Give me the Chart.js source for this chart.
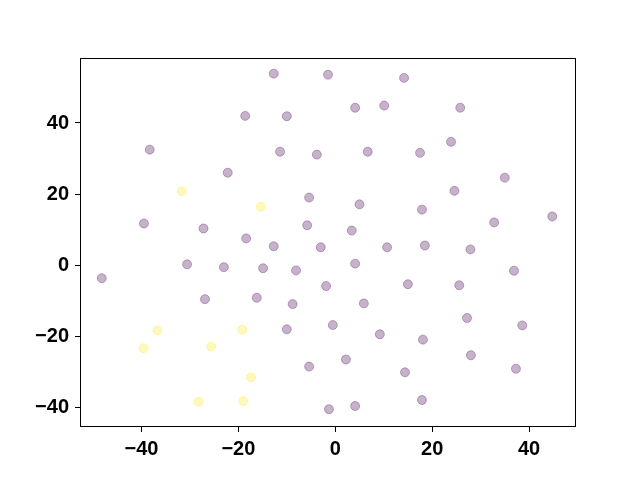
<!DOCTYPE html>
<html>
<head>
<meta charset="utf-8">
<script src="https://cdn.jsdelivr.net/npm/chart.js@4/dist/chart.umd.min.js"></script>
<style>
  html, body { margin: 0; padding: 0; background: #fff; }
  #wrap { width: 640px; height: 480px; }
</style>
</head>
<body>
<div id="wrap"><canvas id="scatter"></canvas></div>
<script>
// purple group (class 0)
var purpleX = [-12.7, -1.5, 14.2, -18.6, -10.0, 4.1, 10.1, 25.8, -38.3, -11.4,
  -3.8, 6.7, 17.5, 23.9, -22.2, 35.0, 24.6, -5.4, 5.0, 17.9,
  44.8, -39.5, -27.2, -5.8, 3.4, 32.8, -18.4, -12.7, -3.0, 10.7,
  18.5, 27.9, -30.6, -23.0, -14.9, -8.1, 4.1, 36.9, -48.2, -1.9,
  15.0, 25.6, -26.9, -16.2, -8.8, 5.9, 27.2, 38.6, -0.5, -10.0,
  9.2, 18.1, 2.2, 28.0, -5.4, 37.3, 14.4, 17.9, 4.1, -1.3];
var purpleY = [53.9, 53.6, 52.7, 42.0, 41.9, 44.3, 44.9, 44.3, 32.5, 31.9,
  31.1, 31.9, 31.6, 34.7, 26.0, 24.6, 20.9, 19.0, 17.1, 15.6,
  13.7, 11.7, 10.3, 11.2, 9.7, 12.0, 7.5, 5.3, 5.0, 5.0,
  5.5, 4.4, 0.2, -0.6, -0.9, -1.5, 0.4, -1.6, -3.7, -5.9,
  -5.4, -5.7, -9.6, -9.2, -11.0, -10.8, -14.9, -17.0, -16.9, -18.1,
  -19.5, -21.0, -26.6, -25.4, -28.6, -29.2, -30.2, -38.0, -39.7, -40.6];

// yellow group (class 1)
var yellowX = [-31.7, -15.4, -36.7, -19.2, -39.6, -25.6, -17.4, -28.2, -19.0];
var yellowY = [20.8, 16.4, -18.4, -18.2, -23.4, -22.9, -31.6, -38.5, -38.3];

var xTicks = [-40, -20, 0, 20, 40];
var yTicks = [-40, -20, 0, 20, 40];

function toPoints(xs, ys) {
  var pts = [];
  for (var i = 0; i < xs.length; i++) pts.push({x: xs[i], y: ys[i]});
  return pts;
}

// draw the full box round the plot area, like matplotlib
var frame = {
  id: 'frame',
  afterDraw: function (c) {
    var a = c.chartArea, g = c.ctx;
    g.save();
    g.strokeStyle = '#000';
    g.lineWidth = 1;
    g.strokeRect(a.left + 0.5, a.top + 0.5, a.right - a.left - 1, a.bottom - a.top - 1);
    g.restore();
  }
};

var tickFont = {family: '"Liberation Sans", Arial, sans-serif', size: 20, weight: 'bold'};
var fmt = function (v) { return v < 0 ? '\u2212' + Math.abs(v) : '' + v; };

var ctx = document.getElementById('scatter').getContext('2d');
var chart = new Chart(ctx, {
    type: 'scatter',
    data: {
        datasets: [{
            data: toPoints(purpleX, purpleY),
            backgroundColor: 'rgba(68, 1, 84, 0.3)',
            borderColor: 'rgba(68, 1, 84, 0.3)',
            borderWidth: 1,
            pointRadius: 4.5
        }, {
            data: toPoints(yellowX, yellowY),
            backgroundColor: 'rgba(253, 231, 37, 0.3)',
            borderColor: 'rgba(253, 231, 37, 0.3)',
            borderWidth: 1,
            pointRadius: 4.5
        }]
    },
    options: {
        responsive: true,
        maintainAspectRatio: false,
        animation: false,
        layout: {padding: {left: 0, right: 64, top: 58, bottom: 0}},
        plugins: {legend: {display: false}, tooltip: {enabled: false}},
        scales: {
            x: {
                type: 'linear',
                min: -52.7,
                max: 49.7,
                afterBuildTicks: function (s) { s.ticks = xTicks.map(function (v) { return {value: v}; }); },
                afterFit: function (s) { s.height = 53; },
                grid: {drawOnChartArea: false, drawTicks: true, tickLength: 5, color: '#000'},
                border: {display: false},
                ticks: {font: tickFont, color: '#000', padding: 5, maxRotation: 0, callback: fmt}
            },
            y: {
                type: 'linear',
                min: -45.6,
                max: 58.3,
                afterBuildTicks: function (s) { s.ticks = yTicks.map(function (v) { return {value: v}; }); },
                afterFit: function (s) { s.width = 80; },
                grid: {drawOnChartArea: false, drawTicks: true, tickLength: 5, color: '#000'},
                border: {display: false},
                ticks: {font: tickFont, color: '#000', padding: 6, callback: fmt}
            }
        }
    },
    plugins: [frame]
});
</script>
</body>
</html>
